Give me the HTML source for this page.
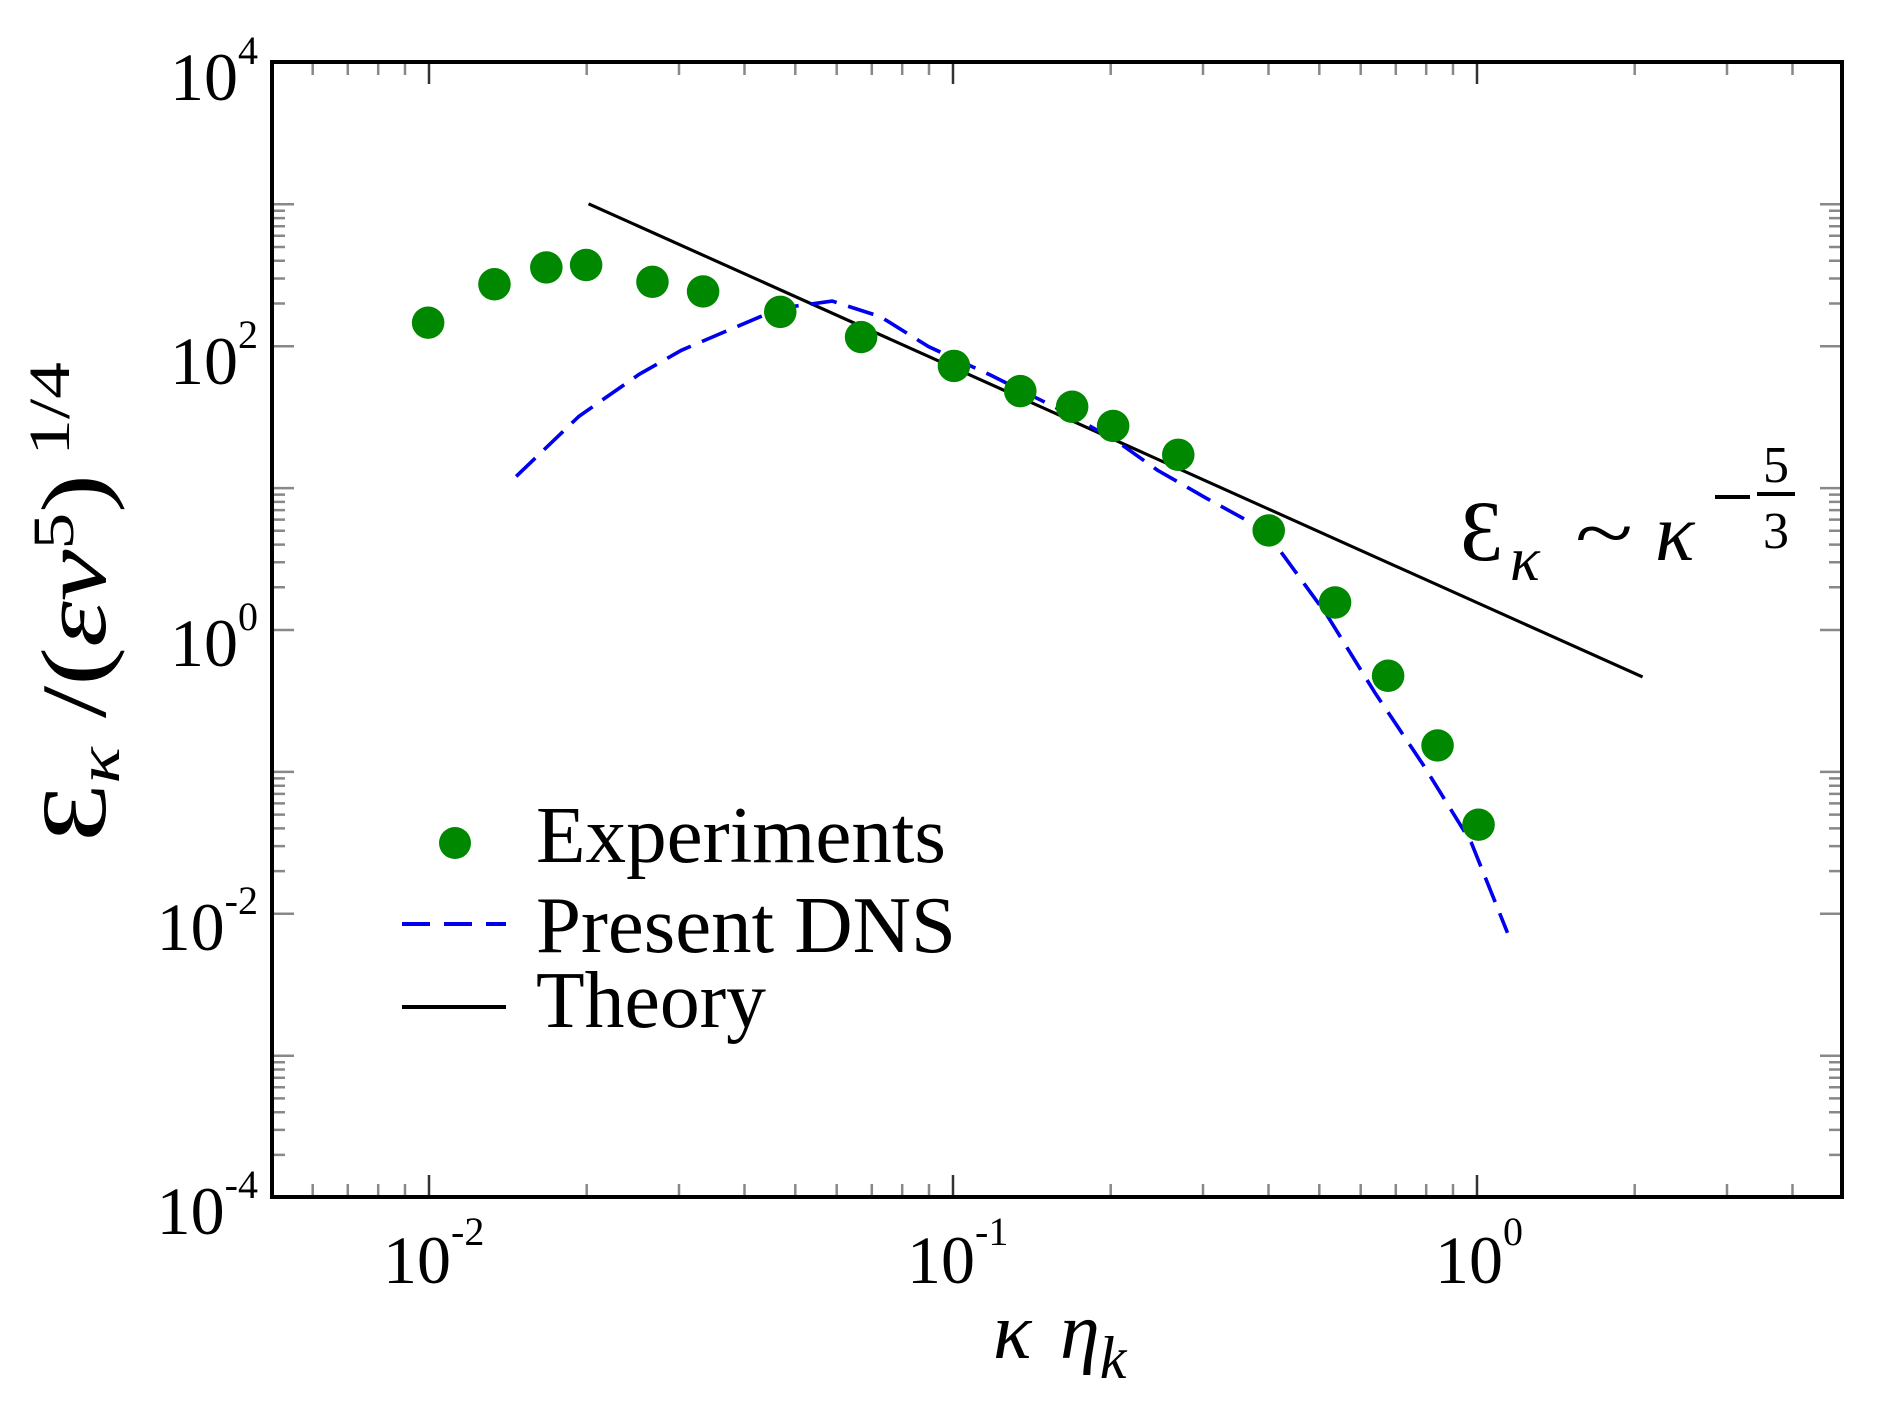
<!DOCTYPE html>
<html><head><meta charset="utf-8"><style>
html,body{margin:0;padding:0;background:#fff;width:1884px;height:1411px;overflow:hidden}
svg{display:block}
text{font-family:"Liberation Serif",serif;fill:#000}
</style></head><body>
<svg width="1884" height="1411" viewBox="0 0 1884 1411" xmlns="http://www.w3.org/2000/svg">
<!-- x minor ticks -->
<path fill="none" stroke="#888" stroke-width="2.5" d="
M312.7 1197v-13M347.8 1197v-13M378.2 1197v-13M405 1197v-13
M586.7 1197v-13M679 1197v-13M744.5 1197v-13M795.3 1197v-13M836.7 1197v-13M871.8 1197v-13M902.2 1197v-13M929 1197v-13
M1110.7 1197v-13M1203 1197v-13M1268.5 1197v-13M1319.3 1197v-13M1360.7 1197v-13M1395.8 1197v-13M1426.2 1197v-13M1453 1197v-13
M1634.7 1197v-13M1727 1197v-13M1792.5 1197v-13
M312.7 62v13M347.8 62v13M378.2 62v13M405 62v13
M586.7 62v13M679 62v13M744.5 62v13M795.3 62v13M836.7 62v13M871.8 62v13M902.2 62v13M929 62v13
M1110.7 62v13M1203 62v13M1268.5 62v13M1319.3 62v13M1360.7 62v13M1395.8 62v13M1426.2 62v13M1453 62v13
M1634.7 62v13M1727 62v13M1792.5 62v13"/>
<path fill="none" stroke="#333" stroke-width="2.5" d="M429 1197v-22M953 1197v-22M1477 1197v-22M429 62v22M953 62v22M1477 62v22"/>
<path fill="none" stroke="#888" stroke-width="2.5" d="
M272 204.3h22M272 346.2h22M272 488.1h22M272 630h22M272 771.9h22M272 913.8h22M272 1055.7h22
M1842 204.3h-22M1842 346.2h-22M1842 488.1h-22M1842 630h-22M1842 771.9h-22M1842 913.8h-22M1842 1055.7h-22"/>
<path fill="none" stroke="#888" stroke-width="2.5" d="
M272 303.5h13M272 278.5h13M272 260.8h13M272 247h13M272 235.8h13M272 226.3h13M272 218.1h13M272 210.8h13
M272 587.3h13M272 562.3h13M272 544.6h13M272 530.8h13M272 519.6h13M272 510.1h13M272 501.9h13M272 494.6h13
M272 871.1h13M272 846.1h13M272 828.4h13M272 814.6h13M272 803.4h13M272 793.9h13M272 785.7h13M272 778.4h13
M272 1154.9h13M272 1129.9h13M272 1112.2h13M272 1098.4h13M272 1087.2h13M272 1077.7h13M272 1069.5h13M272 1062.2h13
M1842 303.5h-13M1842 278.5h-13M1842 260.8h-13M1842 247h-13M1842 235.8h-13M1842 226.3h-13M1842 218.1h-13M1842 210.8h-13
M1842 587.3h-13M1842 562.3h-13M1842 544.6h-13M1842 530.8h-13M1842 519.6h-13M1842 510.1h-13M1842 501.9h-13M1842 494.6h-13
M1842 871.1h-13M1842 846.1h-13M1842 828.4h-13M1842 814.6h-13M1842 803.4h-13M1842 793.9h-13M1842 785.7h-13M1842 778.4h-13
M1842 1154.9h-13M1842 1129.9h-13M1842 1112.2h-13M1842 1098.4h-13M1842 1087.2h-13M1842 1077.7h-13M1842 1069.5h-13M1842 1062.2h-13"/>
<rect x="272" y="62" width="1570" height="1135" fill="none" stroke="#000" stroke-width="4"/>

<g font-size="68">
<text x="258" y="100" text-anchor="end">10<tspan dy="-36" font-size="40">4</tspan></text>
<text x="258" y="384" text-anchor="end">10<tspan dy="-36" font-size="40">2</tspan></text>
<text x="258" y="666" text-anchor="end">10<tspan dy="-36" font-size="40">0</tspan></text>
<text x="258" y="950" text-anchor="end">10<tspan dy="-36" font-size="40">-2</tspan></text>
<text x="258" y="1234" text-anchor="end">10<tspan dy="-36" font-size="40">-4</tspan></text>
</g>
<g font-size="68">
<text x="383" y="1283">10<tspan dy="-38" font-size="40">-2</tspan></text>
<text x="907" y="1283">10<tspan dy="-38" font-size="40">-1</tspan></text>
<text x="1435" y="1283">10<tspan dy="-38" font-size="40">0</tspan></text>
</g>
<text x="993" y="1358" font-size="80" font-style="italic">κ</text>
<text x="1060" y="1358" font-size="80" font-style="italic">η<tspan dy="20" font-size="60">k</tspan></text>
<text transform="translate(105,602) rotate(-90)" text-anchor="middle" font-size="92" textLength="480" lengthAdjust="spacingAndGlyphs">Ɛ<tspan dy="14" font-size="60" font-style="italic">κ</tspan><tspan dy="-14"> /(</tspan><tspan font-style="italic">εν</tspan><tspan dy="-32" font-size="58">5</tspan><tspan dy="32">)</tspan><tspan dy="-36" font-size="58"> 1/4</tspan></text>

<g transform="matrix(1.206,0,0,1.201,0,2)">
<polyline fill="none" stroke="#000" stroke-width="2.6" points="488,168 1362,562"/>
<polyline fill="none" stroke="#0000ee" stroke-width="3" stroke-dasharray="22,10" points="428,395 480,345 530,310 565,290 600,275 647,255 690,249 730,262 770,287 820,310 880,340 925,365 960,390 1000,413 1040,435 1060,455 1100,510 1140,575 1180,635 1220,700 1250,775"/>
<g fill="#008800">
<circle cx="355" cy="267" r="13.5"/><circle cx="410" cy="235" r="13.5"/><circle cx="453" cy="221" r="13.5"/><circle cx="486" cy="219" r="13.5"/><circle cx="541" cy="233" r="13.5"/><circle cx="583" cy="241" r="13.5"/><circle cx="647" cy="258" r="13.5"/><circle cx="714" cy="279" r="13.5"/><circle cx="791" cy="303" r="13.5"/><circle cx="846" cy="324" r="13.5"/><circle cx="889" cy="337" r="13.5"/><circle cx="923" cy="353" r="13.5"/><circle cx="977" cy="377" r="13.5"/><circle cx="1052" cy="440" r="13.5"/><circle cx="1107" cy="500" r="13.5"/><circle cx="1151" cy="561" r="13.5"/><circle cx="1192" cy="619" r="13.5"/><circle cx="1226" cy="685" r="13.5"/>
</g>
</g>

<circle cx="455" cy="843" r="16" fill="#008800"/>
<text x="536" y="862" font-size="80" textLength="410" lengthAdjust="spacingAndGlyphs">Experiments</text>
<line x1="402" y1="924" x2="506" y2="924" stroke="#0000ee" stroke-width="4" stroke-dasharray="28,14"/>
<text x="536" y="952" font-size="80" textLength="420" lengthAdjust="spacingAndGlyphs">Present DNS</text>
<line x1="402" y1="1007" x2="506" y2="1007" stroke="#000" stroke-width="4"/>
<text x="536" y="1027" font-size="80" textLength="230" lengthAdjust="spacingAndGlyphs">Theory</text>

<g font-family="DejaVu Sans, sans-serif">
<text x="1460" y="560" font-size="86">Ɛ</text>
<text x="1510" y="580" font-size="62" font-style="italic">κ</text>
<text x="1575" y="560" font-size="80" textLength="58" lengthAdjust="spacingAndGlyphs">~</text>
<text x="1655" y="560" font-size="82" font-style="italic">κ</text>
<text x="1776" y="482" font-size="52" text-anchor="middle">5</text>
<text x="1776" y="548" font-size="52" text-anchor="middle">3</text>
</g>
<line x1="1715" y1="497" x2="1750" y2="497" stroke="#000" stroke-width="4"/>
<line x1="1757" y1="494" x2="1795" y2="494" stroke="#000" stroke-width="4"/>
</svg>
</body></html>
